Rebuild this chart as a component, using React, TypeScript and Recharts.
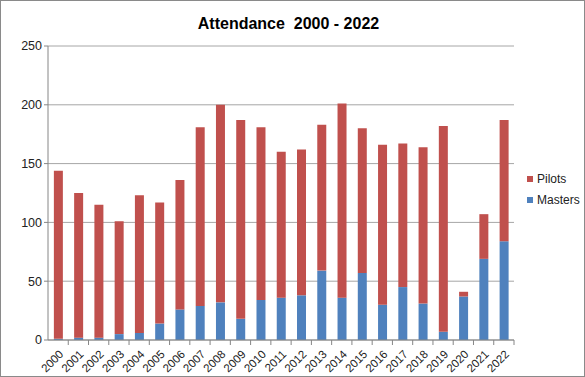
import React from "react";
import { BarChart, Bar, XAxis, YAxis, CartesianGrid } from "recharts";

const years = [
  "2000", "2001", "2002", "2003", "2004", "2005", "2006", "2007", "2008", "2009", "2010", "2011",
  "2012", "2013", "2014", "2015", "2016", "2017", "2018", "2019", "2020", "2021", "2022",
];
const masters = [1, 2, 2, 5, 6, 14, 26, 29, 32, 18, 34, 36, 38, 59, 36, 57, 30, 45, 31, 7, 37, 69, 84];
const pilots = [143, 123, 113, 96, 117, 103, 110, 152, 168, 169, 147, 124, 124, 124, 165, 123, 136, 122, 133, 175, 4, 38, 103];
const yTicks = [0, 50, 100, 150, 200, 250];

const data = years.map((y, i) => ({ year: y, Masters: masters[i], Pilots: pilots[i] }));

const W = 585;
const H = 377;
const M = { top: 46, right: 71, left: 8, bottom: 0 };
const Y_W = 40;
const step = (W - M.left - Y_W - M.right) / years.length;
const font = "'Liberation Sans', Arial, sans-serif";

const XTick = (props: any) => {
  const { x, y, payload } = props;
  return (
    <g>
      <line x1={x + step / 2} y1={y} x2={x + step / 2} y2={y + 5} stroke="#868686" />
      <text
        x={x + 6}
        y={y + 15}
        textAnchor="end"
        transform={`rotate(-45, ${x + 6}, ${y + 15})`}
        fontSize={11.5}
        fill="#222"
        fontFamily={font}
      >
        {payload.value}
      </text>
    </g>
  );
};

const legendItems = [
  { name: "Pilots", color: "#C0504D" },
  { name: "Masters", color: "#4F81BD" },
];

export default function App() {
  return (
    <div
      style={{
        position: "absolute",
        left: 0,
        top: 0,
        width: W - 2,
        height: H - 2,
        border: "1px solid #8a8a8a",
        background: "#fff",
      }}
    >
      <div
        style={{
          position: "absolute",
          left: 0,
          width: 575,
          top: 14,
          textAlign: "center",
          fontFamily: font,
          fontWeight: "bold",
          fontSize: 16,
          color: "#000",
          whiteSpace: "pre",
        }}
      >
        {"Attendance  2000 - 2022"}
      </div>
      <div style={{ position: "absolute", left: 526, top: 167, fontFamily: font, fontSize: 12, color: "#222" }}>
        {legendItems.map((it) => (
          <div key={it.name} style={{ display: "flex", alignItems: "center", height: 21 }}>
            <span style={{ width: 6, height: 6, background: it.color, marginRight: 4 }} />
            {it.name}
          </div>
        ))}
      </div>
      <div style={{ position: "absolute", left: -1, top: -1 }}>
        <BarChart width={W} height={H} data={data} margin={M} barCategoryGap="29%">
          <CartesianGrid vertical={false} stroke="#a6a6a6" strokeWidth={1} />
          <XAxis
            dataKey="year"
            interval={0}
            height={37}
            stroke="#868686"
            tickLine={false}
            tickSize={0}
            tickMargin={0}
            tick={XTick}
          />
          <YAxis
            width={Y_W}
            domain={[0, 250]}
            ticks={yTicks}
            stroke="#868686"
            tickSize={4}
            tick={{ fontSize: 12.5, fill: "#222", fontFamily: font }}
          />
          <Bar dataKey="Masters" stackId="a" fill="#4F81BD" isAnimationActive={false} />
          <Bar dataKey="Pilots" stackId="a" fill="#C0504D" isAnimationActive={false} />
        </BarChart>
      </div>
    </div>
  );
}
